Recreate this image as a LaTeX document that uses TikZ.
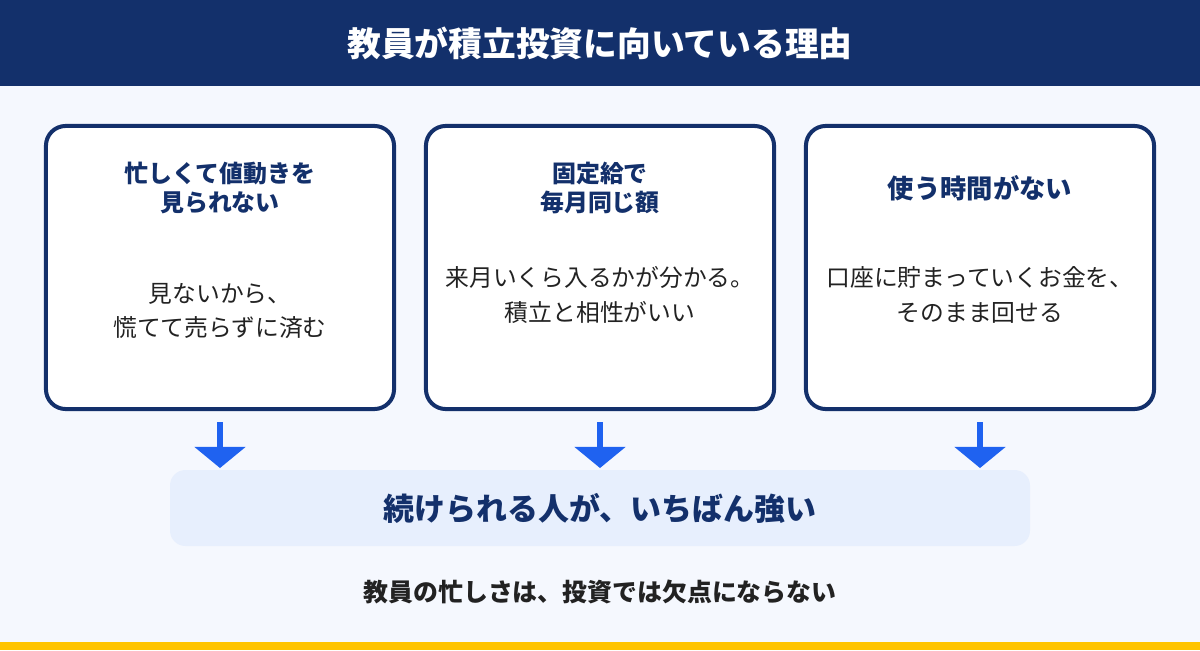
\documentclass[tikz,border=0pt]{standalone}
\usepackage{fontspec}
\setmainfont{Noto Sans CJK JP}
\usetikzlibrary{arrows.meta}
\definecolor{navy}{HTML}{13306B}
\definecolor{bgpale}{HTML}{F5F8FE}
\definecolor{bandfill}{HTML}{E7EFFD}
\definecolor{arrowblue}{HTML}{1F62F0}
\definecolor{baryellow}{HTML}{FFC400}
\definecolor{inktext}{HTML}{222222}
\tikzset{
  card/.style={draw=navy, line width=2.85pt, fill=white, rounded corners=14pt,
    minimum width=8.7cm, minimum height=7.075cm},
  cardtitle/.style={text=navy, align=center, font=\fontsize{17pt}{21.3pt}\selectfont\bfseries},
  cardbody/.style={text=inktext, align=center, font=\fontsize{16.9pt}{24.5pt}\selectfont},
  flowarrow/.style={arrowblue, line width=4.3pt,
    -{Triangle[width=35.6pt,length=15pt]}, shorten >=1.4pt}
}
\begin{document}
\begin{tikzpicture}[x=0.025cm, y=-0.025cm]
  \useasboundingbox (0,0) rectangle (1200,650);
  \fill[bgpale] (0,0) rectangle (1200,650);
  \fill[navy] (0,0) rectangle (1200,86);
  \node[text=white, font=\fontsize{24pt}{28pt}\selectfont\bfseries] (title) at (600,43) {教員が積立投資に向いている理由};

  \node[card] (c1) at (220,267.5) {};
  \node[card] (c2) at (600,267.5) {};
  \node[card] (c3) at (980,267.5) {};

  \node[cardtitle] (t1) at (220,188) {忙しくて値動きを\\見られない};
  \node[cardtitle] (t2) at (600,188) {固定給で\\毎月同じ額};
  \node[cardtitle, font=\fontsize{18.7pt}{22pt}\selectfont\bfseries] (t3) at (980,188) {使う時間がない};

  \node[cardbody] (b1) at (220,311) {見ないから、\\慌てて売らずに済む};
  \node[cardbody] (b2) at (600,295) {来月いくら入るかが分かる。\\積立と相性がいい};
  \node[cardbody] (b3) at (980,295) {口座に貯まっていくお金を、\\そのまま回せる};

  \fill[bandfill, rounded corners=11pt] (170,470) rectangle (1030,546);
  \node[text=navy, font=\fontsize{22pt}{26pt}\selectfont\bfseries] (band) at (600,508) {続けられる人が、いちばん強い};
  \coordinate (bandtop) at (600,470);

  \draw[flowarrow] ([yshift=-7.8pt]c1.south) -- (c1.south |- bandtop);
  \draw[flowarrow] ([yshift=-7.8pt]c2.south) -- (c2.south |- bandtop);
  \draw[flowarrow] ([yshift=-7.8pt]c3.south) -- (c3.south |- bandtop);

  \node[text=inktext, font=\fontsize{17.7pt}{21pt}\selectfont\bfseries] (note) at (600,592) {教員の忙しさは、投資では欠点にならない};
  \fill[baryellow] (0,642) rectangle (1200,650);
\end{tikzpicture}
\end{document}
